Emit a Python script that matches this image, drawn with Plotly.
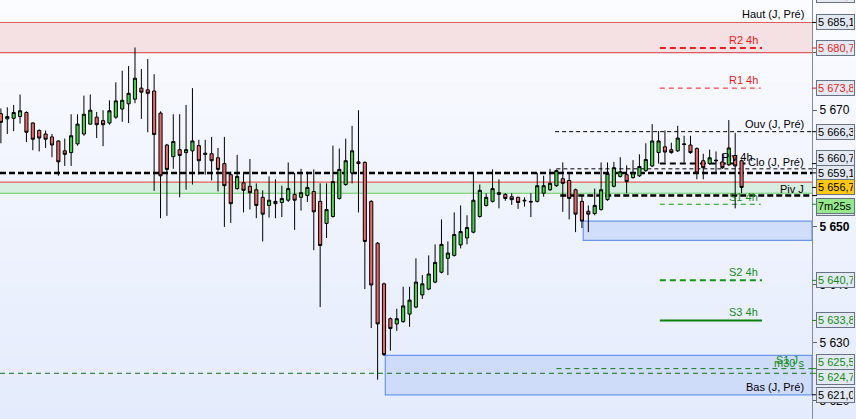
import plotly.graph_objects as go

# ---------------- data ----------------
opens = [5669.4, 5668.5, 5668.6, 5668.9, 5669.6, 5667.8, 5666.5, 5665.9, 5665.4, 5664.7,
         5663.0, 5662.7, 5664.2, 5665.9, 5667.6, 5668.8, 5668.2, 5667.8, 5668.8, 5670.2,
         5671.1, 5671.9, 5673.8, 5673.5, 5673.3, 5669.5, 5664.0, 5662.0, 5663.2, 5662.7,
         5663.0, 5663.9, 5662.6, 5662.5, 5661.8, 5660.8, 5658.9, 5656.5, 5657.5, 5656.9,
         5656.3, 5655.0, 5653.6, 5653.9, 5654.1, 5654.5, 5655.5, 5655.0, 5655.3, 5656.0,
         5654.3, 5650.5, 5651.7, 5654.8, 5657.2, 5659.2, 5661.1, 5661.0, 5654.3, 5647.1,
         5640.1, 5634.1, 5633.2, 5633.6, 5634.9, 5636.1, 5638.2, 5639.2, 5640.4, 5642.1,
         5644.5, 5645.0, 5646.8, 5648.0, 5649.0, 5651.7, 5653.6, 5654.3, 5655.5, 5655.5,
         5655.1, 5655.0, 5654.5, 5654.3, 5654.3, 5655.7, 5656.3, 5657.0, 5658.2, 5657.9,
         5656.3, 5654.3, 5652.6, 5652.2, 5652.9, 5654.6, 5656.9, 5658.6, 5658.9, 5658.4,
         5658.7, 5659.6, 5660.4, 5662.7, 5663.7, 5663.2, 5663.0, 5664.2, 5664.0, 5663.4,
         5661.3, 5660.8, 5661.4, 5661.1, 5660.6, 5662.2, 5661.3]
highs = [5670.3, 5670.5, 5670.9, 5672.7, 5669.8, 5667.9, 5666.7, 5666.5, 5665.9, 5664.8,
         5665.1, 5669.3, 5669.3, 5672.5, 5672.7, 5669.7, 5670.0, 5671.7, 5674.8, 5676.8,
         5677.6, 5680.8, 5677.1, 5678.8, 5676.2, 5669.8, 5664.2, 5669.3, 5669.3, 5670.9,
         5673.8, 5664.9, 5664.9, 5665.4, 5663.5, 5665.4, 5659.4, 5662.3, 5659.1, 5661.6,
         5657.4, 5656.2, 5658.6, 5658.1, 5657.0, 5661.0, 5659.2, 5659.9, 5659.4, 5659.8,
         5657.4, 5657.4, 5663.9, 5663.4, 5665.1, 5667.3, 5670.0, 5661.2, 5654.5, 5647.3,
         5640.3, 5634.3, 5635.8, 5639.6, 5639.6, 5644.5, 5641.6, 5645.0, 5646.9, 5651.2,
         5647.4, 5652.4, 5653.6, 5651.9, 5659.2, 5657.2, 5655.7, 5659.8, 5658.1, 5655.7,
         5655.7, 5655.1, 5655.0, 5655.7, 5659.2, 5658.7, 5659.9, 5659.8, 5661.0, 5659.1,
         5656.5, 5655.2, 5653.6, 5656.5, 5661.0, 5661.0, 5661.1, 5661.9, 5660.5, 5661.4,
         5662.4, 5664.3, 5667.6, 5666.4, 5666.5, 5664.4, 5667.3, 5665.6, 5665.6, 5663.6,
         5662.5, 5663.2, 5662.9, 5662.5, 5668.3, 5666.1, 5661.5]
lows = [5664.3, 5665.9, 5666.4, 5667.7, 5664.5, 5663.1, 5662.9, 5663.5, 5661.9, 5658.7,
        5660.4, 5660.4, 5663.9, 5665.6, 5667.5, 5665.2, 5663.8, 5667.5, 5668.5, 5668.0,
        5667.8, 5671.2, 5668.5, 5666.2, 5656.1, 5651.4, 5651.8, 5659.9, 5655.0, 5656.3,
        5657.2, 5658.9, 5658.9, 5657.9, 5656.0, 5649.9, 5650.6, 5656.3, 5652.4, 5652.9,
        5651.4, 5647.4, 5651.5, 5651.4, 5651.6, 5654.2, 5649.4, 5652.7, 5654.2, 5645.9,
        5636.1, 5648.0, 5651.5, 5654.6, 5657.0, 5657.4, 5652.4, 5639.2, 5632.5, 5623.6,
        5627.7, 5628.6, 5632.0, 5633.4, 5632.7, 5635.9, 5637.5, 5639.0, 5640.2, 5641.9,
        5641.6, 5644.8, 5646.2, 5646.9, 5648.8, 5651.5, 5653.4, 5654.1, 5653.1, 5654.4,
        5653.7, 5653.0, 5653.4, 5651.6, 5654.1, 5655.1, 5656.1, 5656.8, 5652.5, 5651.2,
        5649.0, 5649.7, 5649.0, 5651.9, 5652.7, 5654.4, 5656.7, 5658.4, 5655.7, 5658.2,
        5658.5, 5659.4, 5660.2, 5660.8, 5661.0, 5662.5, 5662.8, 5661.0, 5662.5, 5658.1,
        5658.1, 5660.6, 5659.2, 5659.9, 5660.4, 5653.1, 5655.7]
closes = [5667.9, 5668.9, 5669.6, 5669.9, 5666.2, 5665.0, 5665.2, 5665.0, 5664.0, 5661.1,
          5662.4, 5665.6, 5667.6, 5669.3, 5670.0, 5667.5, 5667.5, 5669.9, 5671.6, 5671.7,
          5672.9, 5675.5, 5673.1, 5672.9, 5665.8, 5658.7, 5659.8, 5664.6, 5662.2, 5663.2,
          5664.7, 5661.3, 5662.4, 5661.3, 5659.8, 5657.0, 5653.9, 5658.6, 5656.2, 5655.8,
          5653.6, 5652.1, 5654.5, 5654.3, 5654.8, 5656.5, 5654.5, 5655.8, 5656.7, 5652.5,
          5646.7, 5652.9, 5657.7, 5659.8, 5661.3, 5663.0, 5660.8, 5647.4, 5639.9, 5633.2,
          5627.9, 5632.4, 5634.1, 5636.3, 5637.3, 5640.4, 5640.1, 5641.8, 5643.8, 5646.9,
          5645.4, 5648.6, 5649.1, 5649.8, 5654.5, 5656.2, 5655.0, 5656.5, 5655.8, 5654.8,
          5654.6, 5654.1, 5654.4, 5654.2, 5657.0, 5657.0, 5657.4, 5659.6, 5657.4, 5654.8,
          5652.1, 5650.9, 5652.1, 5653.6, 5656.3, 5659.1, 5660.1, 5659.4, 5657.7, 5659.2,
          5660.3, 5661.5, 5664.7, 5664.7, 5662.8, 5662.7, 5665.2, 5664.1, 5662.7, 5659.2,
          5660.1, 5661.8, 5661.3, 5660.1, 5663.5, 5660.4, 5656.7]
bar_index = list(range(len(opens)))

# price levels
level_haut = 5685.1
level_r2_4h = 5680.7
level_r1_4h = 5673.8
level_ouv = 5666.3
level_piv_4h = 5660.8
level_clo = 5659.9
level_black = 5659.2
level_piv_j = 5655.3
level_s1_4h = 5653.8
level_s2_4h = 5640.7
level_s3_4h = 5633.8
level_s1_j = 5625.5
level_m30 = 5624.7
level_bas = 5621.0
last_price = 5656.7
countdown = "7m25s"

zone_pink = [5679.9, 5685.1]
zone_green = [5655.7, 5657.6]
zone_blue_hi = [5647.6, 5650.9]
zone_blue_lo = [5621.0, 5627.8]

tick_values = [5620, 5630, 5640, 5650, 5660, 5670, 5680, 5690]

# --------------- helpers ----------------
def fmt(v):
    s = f"{v:.1f}"
    ip, dp = s.split(".")
    return ip[:-3] + " " + ip[-3:] + "," + dp

def fmt_int(v):
    s = str(int(v))
    return s[:-3] + " " + s[-3:]

X_MIN, X_MAX = -0.141, 127.03
Y_MIN, Y_MAX = 5616.83, 5688.97
FONT = "Liberation Sans, Arial, sans-serif"
RED_T = "rgb(235,25,25)"
GREEN_T = "rgb(20,140,20)"
GREEN_L = "rgb(20,150,20)"
BLACK = "rgb(0,0,0)"

fig = go.Figure()
fig.add_trace(go.Candlestick(
    x=bar_index, open=opens, high=highs, low=lows, close=closes,
    increasing=dict(fillcolor="rgb(72,206,72)", line=dict(color="black", width=1)),
    decreasing=dict(fillcolor="rgb(229,104,104)", line=dict(color="black", width=1)),
    whiskerwidth=0, hoverinfo="skip", showlegend=False,
))

shapes = []
# background gradient
N = 40
top = (251, 252, 255)
bot = (228, 235, 252)
for i in range(N):
    t = (i + 0.5) / N
    c = tuple(round(top[k] + (bot[k] - top[k]) * t) for k in range(3))
    shapes.append(dict(type="rect", xref="paper", yref="paper", x0=0, x1=1.06,
                       y0=1 - (i + 1) / N, y1=1 - i / N + 0.001,
                       fillcolor=f"rgb{c}", line=dict(width=0), layer="below"))

# zones
shapes.append(dict(type="rect", xref="x", yref="y", x0=X_MIN, x1=X_MAX, y0=zone_pink[0], y1=zone_pink[1],
                   fillcolor="rgb(245,224,228)", line=dict(width=0), layer="below"))
for yv in zone_pink:
    shapes.append(dict(type="line", xref="x", yref="y", x0=X_MIN, x1=X_MAX, y0=yv, y1=yv,
                       line=dict(color="rgb(222,92,92)", width=1.2), layer="below"))
shapes.append(dict(type="rect", xref="x", yref="y", x0=X_MIN, x1=X_MAX, y0=zone_green[0], y1=zone_green[1],
                   fillcolor="rgb(214,238,224)", line=dict(width=0), layer="below"))
shapes.append(dict(type="line", xref="x", yref="y", x0=X_MIN, x1=X_MAX, y0=zone_green[1], y1=zone_green[1],
                   line=dict(color="rgb(228,92,92)", width=1.2), layer="below"))
shapes.append(dict(type="line", xref="x", yref="y", x0=X_MIN, x1=X_MAX, y0=zone_green[0], y1=zone_green[0],
                   line=dict(color="rgb(100,205,100)", width=1.2), layer="below"))
shapes.append(dict(type="rect", xref="x", yref="y", x0=91.2, x1=X_MAX, y0=zone_blue_hi[0], y1=zone_blue_hi[1],
                   fillcolor="rgb(208,222,251)", line=dict(color="rgb(105,150,235)", width=1.2), layer="below"))
shapes.append(dict(type="rect", xref="x", yref="y", x0=60.2, x1=X_MAX, y0=zone_blue_lo[0], y1=zone_blue_lo[1],
                   fillcolor="rgb(206,220,250)", line=dict(color="rgb(105,150,235)", width=1.2), layer="below"))

def hline(y, x0, x1, color, width, dash):
    shapes.append(dict(type="line", xref="x", yref="y", x0=x0, x1=x1, y0=y, y1=y,
                       line=dict(color=color, width=width, dash=dash), layer="below"))

hline(level_r2_4h, 103.2, 119.2, "rgb(235,30,30)", 2, "6px,4px")
hline(level_r1_4h, 103.2, 119.0, "rgb(235,30,30)", 1, "5px,4px")
hline(level_ouv, 86.8, X_MAX, BLACK, 1, "4px,3px")
hline(level_piv_4h, 103.2, 116.6, BLACK, 2, "6px,4px")
hline(level_clo, 87.0, X_MAX, BLACK, 1, "4px,3px")
hline(level_black, X_MIN, X_MAX, BLACK, 2.5, "6px,3px")
hline(level_piv_j, 87.6, X_MAX, BLACK, 2.5, "6px,3px")
hline(level_s1_4h, 103.2, 119.0, GREEN_L, 1, "5px,4px")
hline(level_s2_4h, 103.2, 119.2, GREEN_L, 2, "6px,4px")
hline(level_s3_4h, 103.2, 119.2, "rgb(10,130,10)", 2, "solid")
hline(level_s1_j, 87.0, X_MAX, "rgb(20,120,20)", 1, "5px,4px")
hline(level_m30, X_MIN, X_MAX, "rgb(20,110,20)", 1, "5px,4px")

# right-axis price boxes
BOX_FILL = "rgb(226,233,243)"
BOX_BORDER = "rgb(105,115,130)"
annotations = []

def box(y, text, color, fill=BOX_FILL, yshift=0, yref="y"):
    annotations.append(dict(x=1, xref="paper", xanchor="left", xshift=4,
                            y=y, yref=yref, yanchor="middle", yshift=yshift,
                            text=text, showarrow=False, align="left", width=35,
                            font=dict(family=FONT, size=11, color=color),
                            bgcolor=fill, bordercolor=BOX_BORDER, borderwidth=1, borderpad=1))
    if yref == "y":
        shapes.append(dict(type="line", xref="paper", yref="y", x0=1.0, x1=1.0 + 5 / 812,
                           y0=y, y1=y, line=dict(color=color, width=1)))

box(1.0, fmt(5689.4), RED_T, yref="paper", yshift=5)
box(level_haut, fmt(level_haut), BLACK)
box(level_r2_4h, fmt(level_r2_4h), RED_T)
box(level_r1_4h, fmt(level_r1_4h), RED_T)
box(level_ouv, fmt(level_ouv), BLACK)
box(level_s1_4h, fmt(level_s1_4h), GREEN_T, yshift=-4)
box(level_piv_4h, fmt(5660.7), BLACK, yshift=6)
box(level_black, fmt(5659.1), BLACK)
box(last_price, fmt(last_price), BLACK, fill="rgb(255,200,20)")
box(level_piv_j, countdown, BLACK, fill="rgb(150,232,140)", yshift=-10)
box(level_s2_4h, fmt(level_s2_4h), GREEN_T)
box(level_s3_4h, fmt(level_s3_4h), GREEN_T)
box(level_s1_j, fmt(level_s1_j), GREEN_T, yshift=7)
box(level_m30, fmt(level_m30), GREEN_T, yshift=-4)
box(level_bas, fmt(level_bas), BLACK)

# in-chart labels
def label(text, y, color, x=None, xref="paper", xanchor="right", yshift=0):
    annotations.append(dict(x=806 / 812 if x is None else x, xref=xref, xanchor=xanchor,
                            y=y, yref="y", yanchor="bottom", yshift=yshift,
                            text=text, showarrow=False,
                            font=dict(family=FONT, size=11, color=color)))

label("Haut (J, Pré)", level_haut, BLACK)
label("R2 4h", level_r2_4h, RED_T, x=116.3, xref="x", xanchor="center")
label("R1 4h", level_r1_4h, RED_T, x=116.3, xref="x", xanchor="center")
label("Ouv (J, Pré)", level_ouv, BLACK)
label("Piv 4h", level_piv_4h, BLACK, x=118.1, xref="x", xanchor="right", yshift=-1)
label("Clo (J, Pré)", level_clo, BLACK, yshift=-1)
label("Piv J", level_piv_j, BLACK, yshift=-1)
label("S1 4h", level_s1_4h, GREEN_T, x=116.3, xref="x", xanchor="center", yshift=-1)
label("S2 4h", level_s2_4h, GREEN_T, x=116.3, xref="x", xanchor="center")
label("S3 4h", level_s3_4h, GREEN_T, x=116.3, xref="x", xanchor="center")
label("m30 s", level_s1_j, GREEN_T, yshift=-2)
label("S1 J", level_s1_j, GREEN_T, x=800 / 812, yshift=1)
label("Bas (J, Pré)", level_bas, BLACK)

tick_text = [f"<b>{fmt_int(v)}</b>" if v == 5650 else fmt_int(v) for v in tick_values]

fig.update_layout(
    width=856, height=419,
    margin=dict(l=0, r=44, t=0, b=0),
    paper_bgcolor="rgb(240,244,253)",
    plot_bgcolor="rgba(0,0,0,0)",
    showlegend=False,
    shapes=shapes,
    annotations=annotations,
    font=dict(family=FONT, size=11, color="black"),
    xaxis=dict(range=[X_MIN, X_MAX], visible=False, rangeslider=dict(visible=False),
               showgrid=False, zeroline=False, fixedrange=True),
    yaxis=dict(range=[Y_MIN, Y_MAX], side="right", showgrid=False, zeroline=False,
               showline=True, linecolor="rgb(130,140,155)", linewidth=1,
               ticks="outside", ticklen=4, tickcolor="rgb(90,95,105)",
               tickvals=tick_values, ticktext=tick_text,
               tickfont=dict(family=FONT, size=12, color="black"), fixedrange=True),
)

fig.write_html(
    "out.html",
    config={"displayModeBar": False},
    post_script="document.body.style.margin='0';document.body.style.padding='0';"
                "document.body.style.overflow='hidden';",
)
